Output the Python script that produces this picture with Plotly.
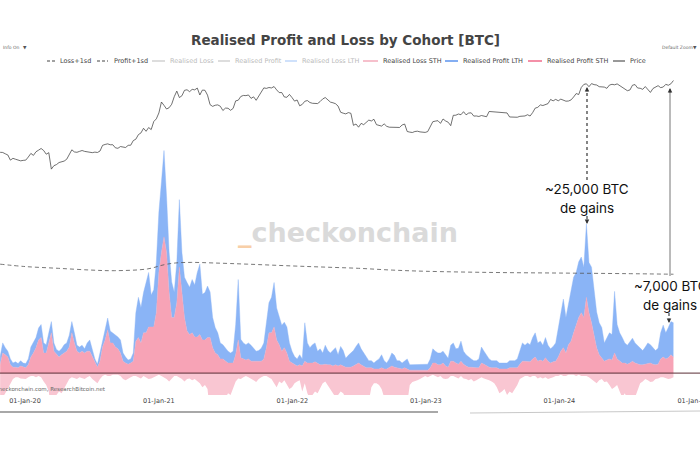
import pandas as pd
import plotly.graph_objects as go

# ---------------- data (weekly, starting 2019-10-25) ----------------
START = "2019-10-25"

price = [
    # 2019
    9200, 9150, 8800, 8500, 7300, 7700, 7500, 7250, 7150, 7250,
    # 2020
    7300, 8000, 8900, 8400, 9350, 9800, 10300, 9700, 8700, 9100, 5600, 6200, 6400,
    6800, 6900, 7100, 7500, 8800, 9900, 9300, 9200, 9450, 9700, 9450, 9350, 9150,
    9100, 9250, 9150, 9550, 11300, 11600, 11800, 11500, 11500, 10500, 10350, 10900, 10700,
    10600, 11300, 11350, 13000, 13550, 15500, 16300, 18700, 17100, 19100, 18000, 22800, 24700,
    # 2021
    29400, 40600, 36800, 33000, 34300, 38000, 47500, 56000, 46300, 48800, 57300, 58300, 55100,
    59000, 58100, 61300, 50000, 57800, 57400, 49700, 37500, 35700, 36900, 37300, 35800, 31600,
    33900, 33800, 31800, 33600, 42000, 42800, 47800, 49300, 49000, 50000, 45200, 47300, 42700,
    48200, 53900, 61600, 60700, 62300, 61500, 64100, 58100, 53600, 53700, 47100, 46700, 50800, 46300,
    # 2022
    41700, 43100, 36300, 37800, 41500, 42400, 40000, 39100, 39100, 38800, 41200, 44500, 46300,
    42800, 40500, 39700, 38600, 36000, 30000, 29200, 28600, 29700, 29100, 20400, 21200, 19300,
    21600, 20800, 22600, 23800, 23200, 24400, 20800, 20200, 19950, 21300, 19800, 19300, 19400,
    19500, 19200, 19150, 20600, 21200, 17000, 16700, 16500, 17000, 17150, 16800, 16800, 16550,
    # 2023
    16950, 19900, 22700, 23100, 23400, 21600, 24600, 23200, 22350, 20200, 27400, 27500, 28500,
    27900, 30500, 27800, 29300, 29500, 26800, 26900, 26500, 27250, 26500, 26300, 30700, 30500,
    30300, 30300, 29900, 29300, 29100, 29400, 26100, 26100, 25800, 25900, 26600, 26600, 26900,
    27900, 26850, 29700, 33900, 34700, 37300, 36600, 37700, 38700, 43800, 42000, 43900, 42100,
    # 2024
    44200, 42800, 41600, 41800, 43200, 47100, 52100, 50700, 62400, 68300, 69500, 63800, 69900,
    67800, 67100, 63800, 64000, 63100, 60800, 67000, 68500, 67500, 69300, 66000, 64100, 60300,
    56700, 57900, 66700, 67900, 61400, 60900, 59000, 64100, 59100, 53900, 60500, 63200, 65800,
    62100, 63200, 68400, 66600, 69500, 76600,
]

profit_sth = [
    1400, 3400, 3100, 2700, 1400, 1000, 1000, 900, 1200, 1000,
    900, 1400, 2700, 3400, 4300, 5600, 6000, 3400, 3400, 5100,
    6800, 3700, 3100, 2700, 3100, 3400, 3700, 4400, 6800, 5100,
    3700, 3400, 3700, 3400, 3700, 3700, 2700, 1700, 1000, 2000,
    4400, 5600, 7300, 5100, 5100, 4400, 4100, 3400, 2000, 1700,
    1500, 1700, 2000, 5400, 6000, 5100, 6800, 6800, 7800, 7800,
    7800, 10200, 17000, 20400, 23000, 20400, 13600, 9400, 9400, 11900,
    17900, 13600, 9400, 7100, 6500, 6800, 6100, 6100, 6500, 5600,
    5600, 6000, 6000, 4300, 3400, 3100, 2400, 2400, 2000, 1700,
    1700, 1700, 3100, 5600, 2600, 2400, 2200, 2400, 2000, 2000,
    2000, 1900, 2000, 2400, 4300, 6800, 6800, 7800, 5600, 4800,
    3700, 4300, 3400, 2000, 1700, 1400, 1200, 1400, 1200, 2000,
    1700, 1700, 1700, 1900, 1700, 1400, 1400, 1500, 1400, 1400,
    1200, 1400, 1200, 1400, 1200, 1000, 1000, 1000, 1200, 1400,
    1700, 1400, 1200, 900, 900, 900, 700, 700, 700, 900,
    700, 700, 900, 1200, 1000, 900, 700, 700, 900, 700,
    500, 500, 500, 500, 500, 500, 500, 500, 900, 1700,
    1700, 1400, 1400, 1700, 1200, 1000, 2000, 2000, 1700, 1500,
    2000, 1500, 1200, 1000, 1000, 900, 900, 900, 1700, 1500,
    1200, 1000, 900, 900, 900, 700, 700, 700, 700, 900,
    900, 900, 900, 1500, 2000, 2000, 2000, 1900, 2400, 2700,
    2000, 2200, 2000, 2600, 2000, 1700, 1900, 2000, 2700, 3700,
    4300, 3400, 4800, 5400, 6800, 8200, 9400, 10200, 9400, 12800,
    10200, 8500, 6500, 4300, 3100, 2600, 2000, 2200, 2400, 2200,
    3400, 2400, 2000, 1700, 1700, 1500, 1700, 2000, 1700, 1500,
    1400, 1400, 1500, 1700, 1700, 1500, 1400, 1500, 2400, 2700,
    2400, 2600, 3100, 2700,
]

profit_lth = [
    1400, 1700, 1200, 1000, 1000, 700, 900, 700, 900, 700,
    700, 1000, 1700, 1700, 1700, 2000, 2200, 1700, 1400, 1700,
    1900, 1400, 900, 1000, 1000, 1400, 1400, 2000, 1900, 1700,
    1000, 1000, 1000, 700, 1400, 1900, 1400, 700, 500, 1400,
    1200, 2000, 2000, 2000, 1700, 2000, 2000, 2200, 1400, 1000,
    700, 700, 1400, 4800, 6800, 6000, 6800, 8500, 9200, 5400,
    6300, 8500, 10200, 11900, 14600, 9400, 6800, 6000, 4300, 6800,
    11400, 6800, 6800, 8200, 8000, 9000, 8800, 10900, 11900, 7700,
    8000, 8700, 7700, 5100, 4300, 3700, 2700, 2400, 2200, 2000,
    1700, 2000, 5100, 10200, 3100, 2700, 2600, 2700, 2700, 2200,
    1700, 1900, 2200, 2700, 4300, 5100, 6000, 7500, 5400, 4600,
    4400, 4300, 4400, 3100, 2000, 1400, 1200, 1700, 1200, 6500,
    3400, 2600, 3100, 3200, 2000, 2700, 2000, 3200, 2400, 2000,
    2600, 2900, 1900, 3100, 2600, 1500, 2000, 2400, 2600, 3100,
    3400, 2700, 2200, 1700, 1200, 1200, 1000, 1400, 1700, 2200,
    1400, 1000, 1500, 2200, 2000, 1200, 1400, 1000, 1200, 1700,
    900, 900, 900, 1000, 900, 1000, 900, 1000, 1500, 2400,
    2000, 2000, 2000, 2000, 1900, 1500, 2700, 3100, 2400, 2700,
    3400, 2200, 1900, 1700, 1400, 1200, 1200, 1500, 2700, 2200,
    1900, 1400, 1200, 1200, 1200, 1000, 1000, 1000, 1000, 1200,
    1200, 1200, 1500, 2200, 3100, 2700, 3100, 2900, 3600, 4100,
    3100, 3200, 2700, 3400, 2700, 2400, 2600, 3100, 4900, 6500,
    8200, 6000, 7100, 9000, 9400, 8800, 9400, 9400, 8500, 12400,
    8500, 9400, 7100, 6000, 5400, 5100, 3100, 3700, 4400, 4300,
    10400, 5800, 4800, 4300, 3400, 3200, 3700, 3900, 3400, 3200,
    2900, 2400, 2900, 3400, 3100, 2700, 2400, 2700, 4400, 5400,
    4400, 5100, 5600, 5800,
]

loss_sth = [
    3700, 4100, 3400, 2600, 1700, 1000, 700, 700, 900, 900,
    1000, 700, 500, 500, 700, 500, 700, 1400, 2000, 3100,
    6800, 5100, 3700, 3100, 3400, 2600, 1700, 1000, 700, 900,
    1000, 700, 900, 1000, 700, 500, 1000, 1400, 1700, 1000,
    500, 300, 500, 500, 300, 300, 300, 500, 1000, 1200,
    900, 700, 500, 500, 700, 900, 500, 700, 1000, 900,
    700, 500, 300, 500, 700, 1000, 1400, 900, 500, 500,
    700, 1000, 1400, 1000, 900, 1200, 1000, 1400, 1700, 2400,
    2000, 2700, 6800, 6000, 5100, 4400, 4100, 3700, 4300, 3400,
    3700, 2700, 1400, 900, 1000, 700, 500, 700, 900, 1200,
    1500, 1000, 700, 500, 500, 700, 1000, 1700, 2400, 1400,
    1700, 1200, 2000, 2700, 2400, 1700, 1400, 1200, 3100, 1700,
    3400, 4400, 3700, 3100, 3400, 2400, 1700, 1400, 2000, 2700,
    3400, 4100, 3700, 3100, 3400, 4300, 3700, 4100, 4400, 4100,
    3700, 4100, 4400, 5100, 4800, 2400, 1700, 1700, 2000, 2700,
    4100, 4800, 5100, 4400, 4100, 4400, 5100, 5400, 6000, 5100,
    2000, 1500, 1400, 1200, 1000, 700, 500, 700, 500, 300,
    500, 700, 500, 900, 1000, 900, 500, 500, 700, 900,
    500, 900, 1000, 1200, 1000, 1400, 1200, 900, 700, 900,
    1000, 1200, 1400, 1700, 2400, 3400, 3100, 2700, 3700, 3100,
    3400, 2700, 2000, 1000, 700, 500, 500, 700, 500, 500,
    900, 700, 900, 700, 1000, 900, 700, 500, 500, 300,
    500, 500, 300, 300, 300, 500, 300, 500, 500, 500,
    700, 1000, 1400, 1700, 1200, 1000, 1500, 1400, 2000, 2700,
    2400, 2000, 3100, 4100, 3400, 4400, 3700, 4800, 4100, 2700,
    1700, 1400, 1000, 1200, 1500, 1400, 1000, 900, 700, 700,
    900, 1000, 900, 700,
]

sd_dates = ["2019-10-25", "2020-01-01", "2020-04-01", "2020-07-01", "2020-09-01",
            "2020-12-01", "2021-01-15", "2021-02-15", "2021-04-01", "2021-06-01",
            "2021-09-01", "2022-01-01", "2022-04-01", "2022-07-01", "2022-10-01",
            "2023-01-01", "2023-07-01", "2024-01-01", "2024-07-01", "2024-11-08"]
profit_sd = [18400, 18000, 17700, 17400, 17300, 17600, 18300, 18600, 18700, 18600,
             18400, 18100, 17900, 17700, 17400, 17200, 17000, 16900, 16800, 16700]
loss_sd = [14000, 14500, 15000, 15200, 15300, 15500, 15800, 16000, 16200, 16400,
           16500, 16600, 16800, 17000, 17100, 17000, 16800, 16500, 16300, 16100]

dates = pd.date_range(START, periods=len(price), freq="7D")

# ---------------- styling ----------------
BLUE = "#8ab4f6"
PINK = "#f7a3b6"
PINK_L = "#f9c6d2"
DARK = "#333333"

W, H = 700, 450
PT, PB = 70, 395


def px(x):
    return x / W


def py(y):
    return (PB - y) / (PB - PT)


fig = go.Figure()

fig.add_trace(go.Scatter(x=dates, y=[-v for v in loss_sth], name="Realised Loss STH",
                         mode="lines", line=dict(width=0, color=PINK_L),
                         fill="tozeroy", fillcolor=PINK_L, showlegend=False))
fig.add_trace(go.Scatter(x=dates, y=profit_sth, name="Realised Profit STH",
                         mode="lines", stackgroup="p", line=dict(width=0.4, color=PINK),
                         fillcolor=PINK, showlegend=False))
fig.add_trace(go.Scatter(x=dates, y=profit_lth, name="Realised Profit LTH",
                         mode="lines", stackgroup="p", line=dict(width=0.4, color=BLUE),
                         fillcolor=BLUE, showlegend=False))
fig.add_trace(go.Scatter(x=sd_dates, y=profit_sd, name="Profit+1sd", mode="lines",
                         line=dict(color="#555", width=0.8, dash="4px,3px"),
                         line_shape="spline", showlegend=False))
fig.add_trace(go.Scatter(x=sd_dates, y=[-v for v in loss_sd], name="Loss+1sd", mode="lines",
                         line=dict(color="#555", width=0.8, dash="4px,3px"),
                         showlegend=False))
fig.add_trace(go.Scatter(x=dates, y=price, name="Price", mode="lines", yaxis="y2",
                         line=dict(color=DARK, width=0.7), showlegend=False))

fig.update_layout(
    width=W, height=H,
    margin=dict(l=0, r=0, t=PT, b=H - PB, autoexpand=False),
    paper_bgcolor="white", plot_bgcolor="white",
    showlegend=False,
    xaxis=dict(type="date", range=["2019-10-24 14:00", "2025-01-19 14:00"],
               tickformat="%d-%b-%y", dtick="M12", tick0="2020-01-01",
               showgrid=False, showline=False, zeroline=False, ticks="",
               ticklabeloverflow="allow",
               tickfont=dict(family="DejaVu Sans", size=6.5, color="#444"),
               automargin=False),
    yaxis=dict(range=[-3700, 51200], visible=False, showgrid=False, zeroline=False),
    yaxis2=dict(type="log", range=[0.852, 5.019], overlaying="y", visible=False,
                showgrid=False, zeroline=False),
)

shapes = []
annotations = []

# zero line
shapes.append(dict(type="line", xref="paper", yref="y", x0=0, x1=1, y0=0, y1=0,
                   line=dict(color="#5a2d35", width=1), layer="above"))

# title
annotations.append(dict(x=px(345), y=py(40), xref="paper", yref="paper",
                        text="<b>Realised Profit and Loss by Cohort [BTC]</b>",
                        showarrow=False, xanchor="center", yanchor="middle",
                        font=dict(family="DejaVu Sans", size=13.5, color="#444")))

# corner menus
annotations.append(dict(x=px(1), y=py(48), xref="paper", yref="paper", text="Info On",
                        showarrow=False, xanchor="left", yanchor="middle",
                        font=dict(family="DejaVu Sans", size=4.5, color="#666")))
annotations.append(dict(x=px(25), y=py(48), xref="paper", yref="paper", text="▼",
                        showarrow=False, xanchor="center", yanchor="middle",
                        font=dict(family="DejaVu Sans", size=4.5, color="#555")))
annotations.append(dict(x=px(660), y=py(48), xref="paper", yref="paper", text="Default Zoom",
                        showarrow=False, xanchor="left", yanchor="middle",
                        font=dict(family="DejaVu Sans", size=4.5, color="#666")))
annotations.append(dict(x=px(695), y=py(48), xref="paper", yref="paper", text="▼",
                        showarrow=False, xanchor="center", yanchor="middle",
                        font=dict(family="DejaVu Sans", size=4.5, color="#555")))

# custom legend
legend_items = [
    ("Loss+1sd", "#444", "dash", True, 47, 57, 58),
    ("Profit+1sd", "#444", "dash", True, 97, 108, 112),
    ("Realised Loss", "#dddddd", "solid", False, 152, 165, 168),
    ("Realised Profit", "#dddddd", "solid", False, 218, 230, 233),
    ("Realised Loss LTH", "#cfe1fb", "solid", False, 285, 297, 300),
    ("Realised Loss STH", "#f6c0cc", "solid", True, 363, 378, 381),
    ("Realised Profit LTH", "#84aef2", "solid", True, 445, 458, 461),
    ("Realised Profit STH", "#f490a8", "solid", True, 528, 542, 545),
    ("Price", "#333", "solid", True, 613, 625, 628),
]
LY = 61
for label, col, dash, active, x0, x1, tx in legend_items:
    w = 1 if dash == "dash" or label == "Price" else 2
    shapes.append(dict(type="line", xref="paper", yref="paper",
                       x0=px(x0), x1=px(x1), y0=py(LY), y1=py(LY),
                       line=dict(color=col, width=w, dash="3px,2px" if dash == "dash" else "solid")))
    annotations.append(dict(x=px(tx), y=py(LY), xref="paper", yref="paper", text=label,
                            showarrow=False, xanchor="left", yanchor="middle",
                            font=dict(family="DejaVu Sans", size=6.5,
                                      color="#444" if active else "#bbbbbb")))

# watermark
annotations.append(dict(x=px(348), y=py(232), xref="paper", yref="paper",
                        text="<span style='color:#f8cfa8'>_</span>checkonchain",
                        showarrow=False, xanchor="center", yanchor="middle",
                        font=dict(family="DejaVu Sans", size=27, color="#dadada", weight="bold")))

# source
annotations.append(dict(x=px(108), y=py(389), xref="paper", yref="paper",
                        text="Source: checkonchain.com, ResearchBitcoin.net",
                        showarrow=False, xanchor="right", yanchor="middle",
                        font=dict(family="DejaVu Sans", size=5.5, color="#666")))

# bottom separator lines
shapes.append(dict(type="line", xref="paper", yref="paper", x0=px(0), x1=px(438),
                   y0=py(412), y1=py(412), line=dict(color="#a8a8a8", width=2)))
shapes.append(dict(type="line", xref="paper", yref="paper", x0=px(470), x1=px(700),
                   y0=py(413), y1=py(411), line=dict(color="#c8c8c8", width=1)))

# call-outs
TXT = dict(family="Inter", size=13.5, color="#111")
annotations += [
    dict(x=px(587), y=py(189), xref="paper", yref="paper", text="~25,000 BTC",
         showarrow=False, xanchor="center", yanchor="middle", font=TXT),
    dict(x=px(587), y=py(208), xref="paper", yref="paper", text="de gains",
         showarrow=False, xanchor="center", yanchor="middle", font=TXT),
    dict(x=px(632), y=py(286), xref="paper", yref="paper", text="~7,000 BTC",
         showarrow=False, xanchor="left", yanchor="middle", font=TXT),
    dict(x=px(670), y=py(305), xref="paper", yref="paper", text="de gains",
         showarrow=False, xanchor="center", yanchor="middle", font=TXT),
]
# dotted / solid leader lines
shapes += [
    dict(type="line", xref="paper", yref="paper", x0=px(587), x1=px(587),
         y0=py(180), y1=py(91), line=dict(color="#444", width=1.3, dash="dot")),
    dict(type="line", xref="paper", yref="paper", x0=px(587), x1=px(587),
         y0=py(216), y1=py(220), line=dict(color="#444", width=1.2, dash="dot")),
    dict(type="line", xref="paper", yref="paper", x0=px(670), x1=px(670),
         y0=py(276), y1=py(92), line=dict(color="#777", width=1)),
    dict(type="line", xref="paper", yref="paper", x0=px(669), x1=px(669),
         y0=py(313), y1=py(319), line=dict(color="#444", width=1.2, dash="dot")),
]
# arrow heads
for hx, hy, ay in [(587, 87, 6), (587, 224, -6), (670, 88, 6), (669, 323, -6)]:
    annotations.append(dict(x=px(hx), y=py(hy), xref="paper", yref="paper", text="",
                            showarrow=True, arrowhead=2, arrowsize=0.9, arrowwidth=1,
                            arrowcolor="#333", ax=0, ay=ay))

fig.update_layout(shapes=shapes, annotations=annotations)

fig.write_html("out.html", config={"displayModeBar": False},
               post_script="document.body.style.margin='0';document.body.style.overflow='hidden';")
